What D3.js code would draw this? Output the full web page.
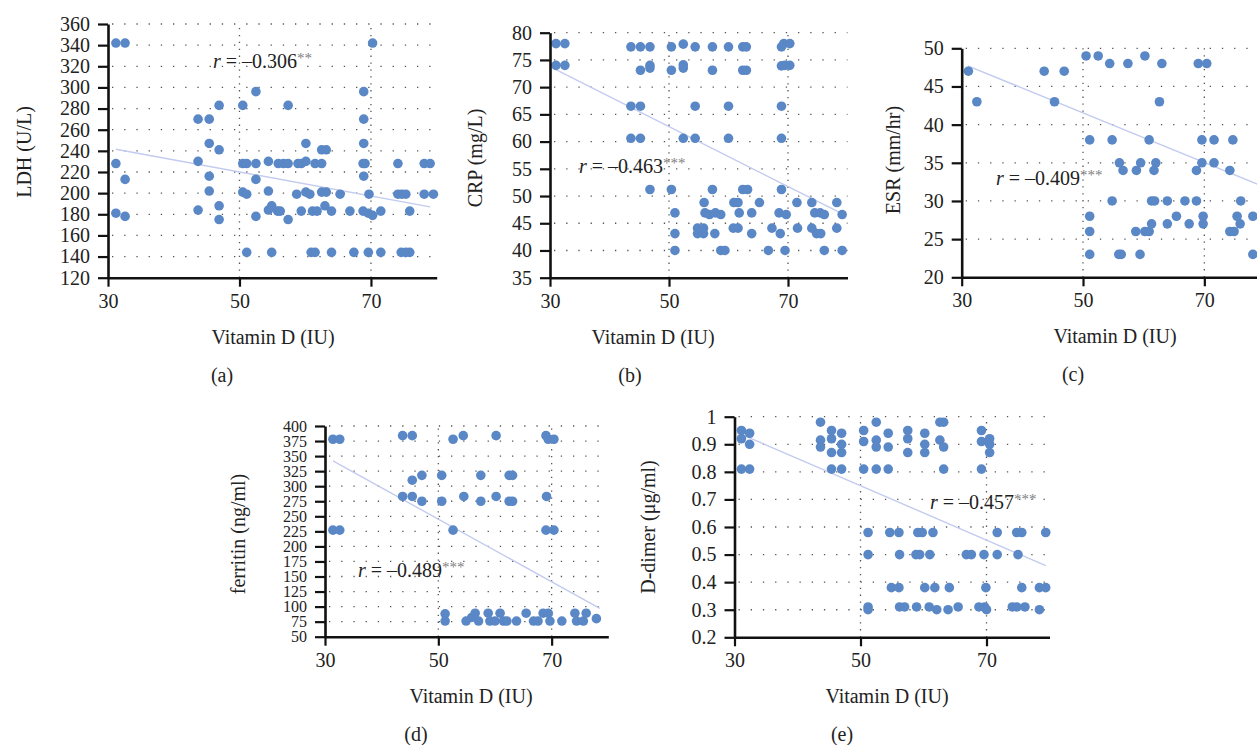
<!DOCTYPE html>
<html><head><meta charset="utf-8">
<script src="https://cdn.jsdelivr.net/npm/d3@7"></script>
<style>
body{margin:0;background:#fff}
svg{display:block}
text{font-family:"Liberation Serif","Times New Roman",serif;fill:#222}
</style>
</head><body>
<svg id="chart" width="1257" height="745"></svg>
<script>
// ---------------- data ----------------
const vitaminTicks = [30, 50, 70];
const ldhTicks = [120,140,160,180,200,220,240,260,280,300,320,340,360];
const crpTicks = [35,40,45,50,55,60,65,70,75,80];
const esrTicks = [20,25,30,35,40,45,50];
const ferritinTicks = [50,75,100,125,150,175,200,225,250,275,300,325,350,375,400];
const ddimerTicks = [0.2,0.3,0.4,0.5,0.6,0.7,0.8,0.9,1];

const ldhData = [
 [31.2,342],[32.6,342],[31.2,228],[32.6,213],[31.2,181],[32.6,178],
 [43.7,270],[45.4,270],[46.9,283],[45.4,247],[46.9,241],[43.7,230],[45.4,216],[45.4,202],[43.7,184],[46.9,188],[46.9,175],
 [50.5,283],[52.5,296],[50.5,228],[51.1,228],[52.5,228],[54.4,230],[55.9,228],[56.7,228],[57.4,228],[58.9,228],[59.4,228],[60.1,230],[61.5,228],[62.5,228],[68.8,228],[69.1,228],[74.1,228],[78.1,228],[79.0,228],
 [52.5,213],[50.5,201],[51.1,199],[54.4,202],[52.5,178],[54.4,184],[54.9,188],[55.8,183],[51.1,144],[54.9,144],
 [70.25,342],[57.4,283],[68.9,296],[68.9,270],[68.9,247],[60.1,247],[62.5,241],[63.2,241],[68.9,216],
 [58.7,199],[60.1,201],[60.7,199],[62.5,201],[63.2,201],[65.3,199],[69.7,199],[74.1,199],[74.7,199],[75.3,199],[78.1,199],[79.5,199],
 [56.2,183],[59.4,183],[61.1,183],[61.8,183],[63.0,188],[64.0,183],[66.8,183],[68.8,183],[69.6,181],[70.25,179],[71.5,183],[75.9,183],
 [57.4,175],
 [60.9,144],[61.5,144],[64.0,144],[67.4,144],[69.6,144],[71.5,144],[74.6,144],[75.3,144],[75.9,144]
];
const crpData = [
 [31.0,78],[32.5,78],[31.0,74],[32.5,74],
 [43.6,77.4],[45.2,77.4],[46.8,77.4],[45.2,73.1],[46.8,73.5],[46.8,74],
 [43.6,66.5],[45.2,66.5],[43.6,60.6],[45.2,60.6],[46.8,51.2],
 [50.4,77.4],[52.4,77.9],[54.4,77.4],[57.3,77.4],[60.0,77.4],[62.4,77.4],[63.0,77.4],[68.9,77.4],[69.3,78],[70.3,78],
 [50.4,73.1],[52.4,74.1],[52.4,73.5],[57.3,73.1],[62.4,73.1],[63.0,73.1],[68.9,73.9],[70.3,74.0],[69.5,74],
 [54.4,66.5],[60.0,66.5],[68.9,66.5],
 [52.4,60.6],[54.4,60.6],[60.0,60.6],[68.9,60.6],
 [50.4,51.2],[57.3,51.2],[62.4,51.2],[63.2,51.2],[68.9,51.2],
 [55.9,48.8],[60.9,48.8],[61.6,48.8],[65.2,48.8],[71.5,48.8],[74.0,48.8],[78.2,48.8],
 [51.0,46.9],[56.05,46.9],[56.8,46.6],[57.8,46.9],[58.7,46.6],[61.8,46.9],[63.9,46.9],[68.5,46.9],[69.7,46.6],[74.5,46.9],[75.4,46.9],[76.1,46.6],[79.1,46.6],
 [51.0,43.1],[54.8,44.1],[55.8,44.1],[54.8,43.1],[55.8,43.1],[57.7,43.1],[60.8,44.1],[61.6,44.1],[63.9,43.1],[67.3,44.1],[68.7,43.1],[71.6,44.1],[74.0,44.1],[74.8,43.1],[75.5,43.1],[78.2,44.1],
 [51.0,40],[58.7,40],[59.4,40],[66.7,40],[69.5,40],[76.1,40],[79.1,40]
];
const esrData = [
 [31.1,47],[32.5,43],[43.6,47],[46.9,47],[45.3,43],
 [50.5,49],[52.5,49],[54.4,48],[57.4,48],[60.2,49],[63.0,48],[69.0,48],[70.4,48],[62.6,43],
 [51.1,38],[54.8,38],[60.9,38],[69.6,38],[71.6,38],[74.7,38],
 [56.0,35],[56.6,34],[59.5,35],[58.8,34],[62.0,35],[61.7,34],[69.6,35],[68.7,34],[71.6,35],[74.2,34],
 [54.8,30],[61.3,30],[61.8,30],[63.9,30],[66.8,30],[68.7,30],[76.0,30],
 [51.1,28],[65.4,28],[69.8,28],[75.4,28],[78.0,28],
 [61.3,27],[63.9,27],[67.5,27],[69.8,27],[75.9,27],
 [51.1,26],[58.7,26],[60.2,26],[60.9,26],[74.2,26],[74.9,26],
 [51.1,23],[55.9,23],[56.3,23],[59.4,23],[78.0,23]
];
const ferritinData = [
 [31.4,378],[32.6,378],[31.4,227],[32.6,227],
 [43.7,384],[45.4,384],[45.4,310],[47.1,318],[43.7,283],[45.4,283],[47.1,275],
 [50.6,318],[50.6,275],
 [52.6,378],[54.4,384],[60.2,384],[69.0,384],[69.4,378],[70.4,378],
 [57.5,318],[62.5,318],[63.1,318],
 [54.5,283],[57.5,275],[60.2,283],[62.5,275],[63.1,275],[69.1,283],
 [52.6,227],[69.0,227],[70.4,227],
 [51.2,88],[51.2,76],[54.9,76],[55.9,82],[56.5,89],[57.1,76],[58.8,89],[59.1,76],[60.0,76],[60.9,89],[61.5,76],[62.1,76],[63.8,76],[65.5,89],[66.8,76],[67.6,76],[68.5,89],[69.4,89],[69.7,76],[71.8,76],[74.1,89],[74.4,76],[75.6,76],[76.1,89],[77.9,80]
];
const ddimerData = [
 [31.1,0.95],[31.1,0.92],[32.4,0.94],[32.4,0.90],[31.1,0.81],[32.4,0.81],
 [43.65,0.98],[45.4,0.95],[47.0,0.94],[43.65,0.915],[43.65,0.89],[45.4,0.92],[47.0,0.90],[45.4,0.87],[47.0,0.87],[45.4,0.81],[47.0,0.81],
 [50.5,0.95],[50.5,0.91],[52.5,0.98],[52.5,0.915],[52.5,0.89],[54.4,0.94],[54.4,0.89],[50.5,0.81],[52.5,0.81],[54.4,0.81],
 [57.5,0.95],[57.5,0.92],[57.5,0.87],[60.2,0.94],[60.2,0.90],[60.2,0.87],[62.6,0.98],[63.2,0.98],[62.6,0.915],[63.2,0.89],[63.2,0.81],
 [69.2,0.95],[69.2,0.91],[70.5,0.92],[70.5,0.90],[70.5,0.87],[69.2,0.81],
 [51.2,0.58],[54.65,0.58],[56.1,0.58],[59.1,0.58],[59.8,0.58],[61.5,0.58],[71.7,0.58],[74.8,0.58],[75.6,0.58],[79.4,0.58],
 [51.2,0.5],[56.2,0.5],[58.8,0.5],[59.4,0.5],[61.0,0.5],[66.8,0.5],[67.6,0.5],[69.6,0.5],[71.7,0.5],[75.0,0.5],
 [54.9,0.38],[56.1,0.38],[60.2,0.38],[61.8,0.38],[64.1,0.38],[69.9,0.38],[75.6,0.38],[78.4,0.38],[79.4,0.38],
 [51.2,0.31],[51.2,0.30],[56.2,0.31],[57.0,0.31],[58.9,0.31],[60.9,0.31],[62.1,0.30],[63.9,0.30],[65.5,0.31],[68.8,0.31],[69.7,0.31],[70.0,0.30],[74.1,0.31],[74.8,0.31],[76.1,0.31],[78.4,0.30]
];

// regression lines (endpoints)
const ldhFit = [[31.2,241.5],[79,187]];
const crpFit = [[31,73.2],[79,46.8]];
const esrFit = [[31,47.7],[80,31.8]];
const ferritinFit = [[31.4,342],[78.5,97]];
const ddimerFit = [[31.1,0.936],[79.4,0.46]];

const yTitles = ["LDH (U/L)","CRP (mg/L)","ESR (mm/hr)","ferritin (ng/ml)","D-dimer (\u03bcg/ml)"];
const rValues = ["\u20130.306","\u20130.463","\u20130.409","\u20130.489","\u20130.457"];
const rStars = ["**","***","***","***","***"];
const panelLetters = ["(a)","(b)","(c)","(d)","(e)"];
const xTitle = "Vitamin D (IU)";

// ---------------- layout ----------------
const panels = [
 {data:ldhData, ticks:ldhTicks, fit:ldhFit, x0:108, x1:436.7, y0:24, y1:277.7, ytx:24, yty:152, rx:213, ry:68, xtx:273, lx:222, tfs:20},
 {data:crpData, ticks:crpTicks, fit:crpFit, x0:550, x1:847.5, y0:32.7, y1:277.7, ytx:475, yty:158, rx:579, ry:173, xtx:653, lx:630, tfs:20},
 {data:esrData, ticks:esrTicks, fit:esrFit, x0:961.7, x1:1265, y0:48.3, y1:277.3, ytx:893, yty:160, rx:996, ry:185, xtx:1115, lx:1073, tfs:20},
 {data:ferritinData, ticks:ferritinTicks, fit:ferritinFit, x0:325, x1:608.3, y0:426, y1:636.7, ytx:238, yty:534, rx:358, ry:577, xtx:471, lx:416, tfs:16},
 {data:ddimerData, ticks:ddimerTicks, fit:ddimerFit, x0:734.5, x1:1049.5, y0:416.7, y1:637.3, ytx:648, yty:527, rx:930, ry:509, xtx:887, lx:842, tfs:20}
];

const svg = d3.select("#chart");
const dotColor = "#5a87c5";
const fontSize = 20;

panels.forEach((p, i) => {
  const g = svg.append("g");
  const x = d3.scaleLinear().domain([30, 80]).range([p.x0, p.x1]);
  const y = d3.scaleLinear().domain([p.ticks[0], p.ticks[p.ticks.length-1]]).range([p.y1, p.y0]);

  // horizontal dotted grid
  g.append("g").selectAll("line").data(p.ticks.slice(1)).join("line")
    .attr("x1", p.x0 + 4).attr("x2", p.x1)
    .attr("y1", d => y(d)).attr("y2", d => y(d))
    .attr("stroke", "#555").attr("stroke-width", 1.3)
    .attr("stroke-dasharray", "1.3,10.9");
  // vertical dotted grid
  g.append("g").selectAll("line").data(vitaminTicks.slice(1)).join("line")
    .attr("x1", d => x(d)).attr("x2", d => x(d))
    .attr("y1", p.y1).attr("y2", p.y0)
    .attr("stroke", "#555").attr("stroke-width", 1.3)
    .attr("stroke-dasharray", "1.3,5.6");

  // regression line
  g.append("path").datum(p.fit)
    .attr("d", d3.line().x(d => x(d[0])).y(d => y(d[1])))
    .attr("fill", "none").attr("stroke", "#c3cbef").attr("stroke-width", 1.4);

  // points
  g.append("g").selectAll("circle").data(p.data).join("circle")
    .attr("cx", d => x(d[0])).attr("cy", d => y(d[1])).attr("r", 4.8)
    .attr("fill", dotColor);

  // axes
  const yAxis = d3.axisLeft(y).tickValues(p.ticks).tickSize(10).tickSizeOuter(0).tickPadding(8)
    .tickFormat(d => String(d));
  const ya = g.append("g").attr("transform", `translate(${p.x0},0)`).call(yAxis);
  const xAxis = d3.axisBottom(x).tickValues(vitaminTicks).tickSize(9).tickSizeOuter(0).tickPadding(7);
  const xa = g.append("g").attr("transform", `translate(0,${p.y1})`).call(xAxis);
  [ya, xa].forEach(a => {
    a.select(".domain").attr("stroke", "#111").attr("stroke-width", 2.6);
    a.selectAll(".tick line").attr("stroke", "#111").attr("stroke-width", 2.2);
    a.selectAll(".tick text").attr("font-size", fontSize)
      .attr("font-family", '"Liberation Serif","Times New Roman",serif').attr("fill", "#222");
  });
  ya.selectAll(".tick text").attr("font-size", p.tfs);

  // y title
  g.append("text")
    .attr("transform", `translate(${p.ytx},${p.yty}) rotate(-90)`)
    .attr("text-anchor", "middle").attr("dominant-baseline", "central")
    .attr("font-size", fontSize).text(yTitles[i]);

  // x title
  g.append("text").attr("x", p.xtx).attr("y", p.y1 + 66)
    .attr("text-anchor", "middle").attr("font-size", fontSize).text(xTitle);

  // panel letter
  g.append("text").attr("x", p.lx).attr("y", p.y1 + 104)
    .attr("text-anchor", "middle").attr("font-size", fontSize).text(panelLetters[i]);

  // r label
  const t = g.append("text").attr("x", p.rx).attr("y", p.ry).attr("font-size", fontSize);
  t.append("tspan").attr("font-style", "italic").text("r");
  t.append("tspan").text(" = " + rValues[i]);
  t.append("tspan").attr("font-size", 15).attr("dy", -5).attr("fill", "#808080").text(rStars[i]);
});
</script>
</body></html>
